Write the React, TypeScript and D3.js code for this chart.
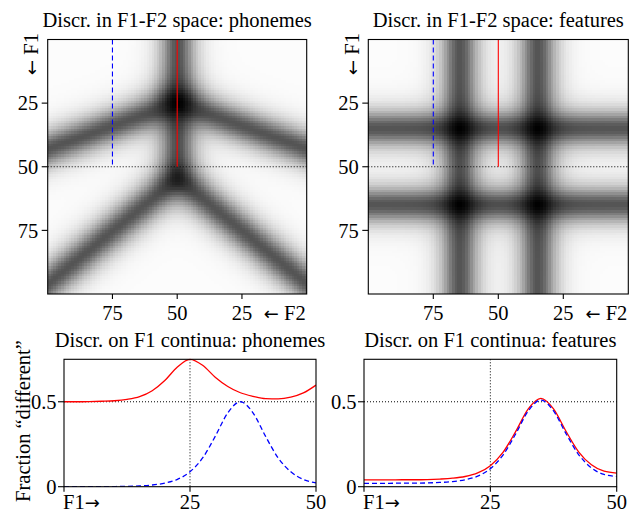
import React, { useMemo } from "react";
import * as d3 from "d3";

// ---------- data ----------
// F1 continua (x values of the lower panels)
const continuumF1 = [0, 2.5, 5, 7.5, 10, 12.5, 15, 17.5, 20, 22.5, 25, 27.5, 30, 32.5, 35, 37.5, 40, 42.5, 45, 47.5, 50];
// Fraction "different" along F1 at F2 = 50 (red) and F2 = 75 (blue), phoneme-based
const phonemesAtF2_50 = [0.5, 0.5, 0.501, 0.503, 0.506, 0.514, 0.53, 0.565, 0.625, 0.705, 0.75, 0.715, 0.645, 0.59, 0.553, 0.532, 0.518, 0.517, 0.527, 0.552, 0.598];
const phonemesAtF2_75 = [0, 0, 0, 0.001, 0.001, 0.002, 0.005, 0.01, 0.021, 0.043, 0.088, 0.169, 0.296, 0.435, 0.5, 0.435, 0.296, 0.169, 0.088, 0.043, 0.022];
// feature-based
const featuresAtF2_50 = [0.04, 0.04, 0.04, 0.041, 0.041, 0.042, 0.045, 0.05, 0.06, 0.081, 0.124, 0.202, 0.324, 0.458, 0.52, 0.458, 0.325, 0.204, 0.129, 0.091, 0.08];
const featuresAtF2_75 = [0.02, 0.02, 0.02, 0.021, 0.021, 0.022, 0.025, 0.03, 0.041, 0.062, 0.106, 0.186, 0.31, 0.446, 0.51, 0.446, 0.311, 0.188, 0.111, 0.072, 0.061];

// axis ticks
const f2Ticks = [75, 50, 25];
const f1Ticks = [25, 50, 75];
const continuumTicks = [0, 25, 50];
const continuumTickLabels = ["F1", "25", "50"];
const fractionTicks = [0, 0.5];
const fractionTickLabels = ["0", "0.5"];

// phoneme category boundaries in F1-F2 space
const boundaryF2 = 50;                 // vertical boundary
const junctionF1 = [25, 54.5];         // upper (4-way) and lower (3-way) junctions on F2 = 50
const boundaryEdgeF1 = [43, 96];       // F1 where upper / lower boundaries reach F2 = 0 and F2 = 100
const phonemeBlur = 3.1;               // perceptual blur (F1/F2 units)
// feature boundaries (top-right map)
const featureBoundariesF1 = [35, 65];
const featureBoundariesF2 = [35, 65];
const featureBlur = 3.25;

// continua markers
const continuumF2 = [50, 75];
const continuumTopF1 = 50;

// ---------- model helpers ----------
type Pt = [number, number];

function distToPolygon(px: number, py: number, poly: Pt[]) {
  let area = 0;
  for (let i = 0; i < poly.length; i++) {
    const a = poly[i], b = poly[(i + 1) % poly.length];
    area += a[0] * b[1] - b[0] * a[1];
  }
  const sgn = Math.sign(area);
  let inside = true;
  let minD = Infinity;
  for (let i = 0; i < poly.length; i++) {
    const a = poly[i], b = poly[(i + 1) % poly.length];
    const ex = b[0] - a[0], ey = b[1] - a[1];
    const cross = ex * (py - a[1]) - ey * (px - a[0]);
    if (cross * sgn < 0) inside = false;
    const len2 = ex * ex + ey * ey;
    let t = ((px - a[0]) * ex + (py - a[1]) * ey) / len2;
    t = Math.max(0, Math.min(1, t));
    const dx = px - (a[0] + t * ex), dy = py - (a[1] + t * ey);
    minD = Math.min(minD, Math.hypot(dx, dy));
  }
  return inside ? 0 : minD;
}

function buildPhonemeRegions(): Pt[][] {
  const FAR = 400;
  const L = boundaryF2 + FAR, R = boundaryF2 - FAR;
  const [j1, j2] = junctionF1;
  const upper = (side: number) => j1 + ((boundaryEdgeF1[0] - j1) / 50) * side;
  const lower = (side: number) => j2 + ((boundaryEdgeF1[1] - j2) / 50) * side;
  const uL = upper(FAR), lL = lower(FAR);
  return [
    [[boundaryF2, -FAR], [L, -FAR], [L, uL], [boundaryF2, j1]],
    [[boundaryF2, j1], [L, uL], [L, lL], [boundaryF2, j2]],
    [[boundaryF2, -FAR], [boundaryF2, j1], [R, uL], [R, -FAR]],
    [[boundaryF2, j1], [boundaryF2, j2], [R, lL], [R, uL]],
    [[boundaryF2, j2], [L, lL], [L, 3 * FAR], [R, 3 * FAR], [R, lL]],
  ];
}

function sameProbability(ds: number[], blur: number) {
  const ws = ds.map((d) => Math.exp(-d / blur));
  const s = d3.sum(ws);
  return d3.sum(ws, (w) => (w / s) * (w / s));
}

function intervalDistances(x: number, bounds: number[]) {
  const edges = [-Infinity, ...bounds, Infinity];
  const out: number[] = [];
  for (let i = 0; i < edges.length - 1; i++) {
    const lo = edges[i], hi = edges[i + 1];
    out.push(x < lo ? lo - x : x > hi ? x - hi : 0);
  }
  return out;
}

// ---------- layout ----------
const W = 630, H = 513;
const topY: [number, number] = [39.5, 294];
const topX: [number, number][] = [[47.7, 306.7], [368.3, 628.3]];
const botY: [number, number] = [359.3, 486.7];
const botX: [number, number][] = [[64, 316], [364, 616.7]];
const FONT = "'Liberation Serif', 'Times New Roman', Times, serif";
const ARROW_FONT = "'DejaVu Sans', sans-serif";
const FS = 20.5;
const RED = "#ff0000";
const BLUE = "#0000ff";

const gray = d3.scaleLinear<string>().domain([0, 0.75]).range(["#fcfcfc", "#000000"]).clamp(true);

function HeatPanel({ xr, kind, title }: { xr: [number, number]; kind: "phonemes" | "features"; title: string }) {
  const x = d3.scaleLinear().domain([100, 0]).range(xr);
  const y = d3.scaleLinear().domain([0, 100]).range(topY);
  const cells = useMemo(() => {
    const regions = buildPhonemeRegions();
    const out: { i: number; j: number; v: number }[] = [];
    for (let i = 0; i < 100; i++) {
      for (let j = 0; j < 100; j++) {
        const f2 = i + 0.5, f1 = j + 0.5;
        let v: number;
        if (kind === "phonemes") {
          const ds = regions.map((p) => distToPolygon(f2, f1, p));
          v = 1 - sameProbability(ds, phonemeBlur);
        } else {
          const a = sameProbability(intervalDistances(f1, featureBoundariesF1), featureBlur);
          const b = sameProbability(intervalDistances(f2, featureBoundariesF2), featureBlur);
          v = 1 - a * b;
        }
        out.push({ i, j, v });
      }
    }
    return out;
  }, [kind]);
  const [x0, x1] = xr;
  const [y0, y1] = topY;
  return (
    <g>
      <text x={(x0 + x1) / 2} y={26.5} textAnchor="middle" fontSize={FS} fontFamily={FONT}>{title}</text>
      <g shapeRendering="crispEdges">
        {cells.map((c) => (
          <rect
            key={c.i * 100 + c.j}
            x={x(c.i + 1)}
            y={y(c.j)}
            width={x(c.i) - x(c.i + 1) + 0.4}
            height={y(c.j + 1) - y(c.j) + 0.4}
            fill={gray(c.v)}
          />
        ))}
      </g>
      <line x1={x0} x2={x1} y1={y(continuumTopF1)} y2={y(continuumTopF1)} stroke="#000" strokeWidth={1} strokeDasharray="1,2" />
      <line x1={x(continuumF2[1])} x2={x(continuumF2[1])} y1={y(0)} y2={y(continuumTopF1)} stroke={BLUE} strokeWidth={1.1} strokeDasharray="5,3" />
      <line x1={x(continuumF2[0])} x2={x(continuumF2[0])} y1={y(0)} y2={y(continuumTopF1)} stroke={RED} strokeWidth={1.1} />
      <rect x={x0} y={y0} width={x1 - x0} height={y1 - y0} fill="none" stroke="#000" strokeWidth={1.1} />
      {f1Ticks.map((t) => (
        <g key={"y" + t}>
          <line x1={x0 - 6} x2={x0} y1={y(t)} y2={y(t)} stroke="#000" strokeWidth={1.1} />
          <text x={x0 - 9.5} y={y(t)} dy="0.35em" textAnchor="end" fontSize={FS} fontFamily={FONT}>{t}</text>
        </g>
      ))}
      {f2Ticks.map((t) => (
        <g key={"x" + t}>
          <line x1={x(t)} x2={x(t)} y1={y1} y2={y1 + 5} stroke="#000" strokeWidth={1.1} />
          <text x={x(t)} y={y1 + 26} textAnchor="middle" fontSize={FS} fontFamily={FONT}>{t}</text>
        </g>
      ))}
      <text x={x1 - 1} y={y1 + 26} textAnchor="end" fontSize={FS} fontFamily={FONT}>
        <tspan fontFamily={ARROW_FONT} fontSize={18}>{"\u2190"}</tspan>
        <tspan>{" F2"}</tspan>
      </text>
      <text transform={`translate(${x0 - 9.5},33) rotate(-90)`} textAnchor="end" fontSize={FS} fontFamily={FONT}>
        <tspan fontFamily={ARROW_FONT} fontSize={18}>{"\u2190"}</tspan>
        <tspan>{" F1"}</tspan>
      </text>
    </g>
  );
}

function LinePanel({ xr, red, blue, title, ylabel, id }: { xr: [number, number]; red: number[]; blue: number[]; title: string; ylabel?: string; id: string }) {
  const x = d3.scaleLinear().domain([0, 50]).range(xr);
  const y = d3.scaleLinear().domain([0, 0.75]).range([botY[1], botY[0]]);
  const line = d3
    .line<number>()
    .x((_, i) => x(continuumF1[i]))
    .y((d) => y(d))
    .curve(d3.curveMonotoneX);
  const [x0, x1] = xr;
  const [y0, y1] = botY;
  return (
    <g>
      <defs>
        <clipPath id={id}>
          <rect x={x0} y={y0 - 1} width={x1 - x0} height={y1 - y0 + 1} />
        </clipPath>
      </defs>
      <text x={(x0 + x1) / 2} y={346.7} textAnchor="middle" fontSize={FS} fontFamily={FONT}>{title}</text>
      <line x1={x0} x2={x1} y1={y(0.5)} y2={y(0.5)} stroke="#000" strokeWidth={1} strokeDasharray="1,2" />
      <line x1={x(25)} x2={x(25)} y1={y0} y2={y1} stroke="#000" strokeWidth={1} strokeDasharray="1,2" />
      <g clipPath={`url(#${id})`}>
        <path d={line(red) || ""} fill="none" stroke={RED} strokeWidth={1.3} />
        <path d={line(blue) || ""} fill="none" stroke={BLUE} strokeWidth={1.3} strokeDasharray="5,3" />
      </g>
      <rect x={x0} y={y0} width={x1 - x0} height={y1 - y0} fill="none" stroke="#000" strokeWidth={1.1} />
      {fractionTicks.map((t, i) => (
        <g key={"y" + t}>
          <line x1={x0 - 6} x2={x0} y1={y(t)} y2={y(t)} stroke="#000" strokeWidth={1.1} />
          <text x={x0 - 7.5} y={y(t)} dy="0.35em" textAnchor="end" fontSize={FS} fontFamily={FONT}>{fractionTickLabels[i]}</text>
        </g>
      ))}
      {continuumTicks.map((t, i) => (
        <g key={"x" + t}>
          <line x1={x(t)} x2={x(t)} y1={y1} y2={y1 + 5} stroke="#000" strokeWidth={1.1} />
          {i === 0 ? (
            <text x={x(t) - 1} y={y1 + 21.8} textAnchor="start" fontSize={FS} fontFamily={FONT}>
              <tspan>{continuumTickLabels[i]}</tspan>
              <tspan fontFamily={ARROW_FONT} fontSize={18}>{"\u2192"}</tspan>
            </text>
          ) : (
            <text x={x(t)} y={y1 + 21.8} textAnchor="middle" fontSize={FS} fontFamily={FONT}>{continuumTickLabels[i]}</text>
          )}
        </g>
      ))}
      {ylabel && (
        <text transform={`translate(29.5,${(y0 + y1) / 2 - 2}) rotate(-90)`} textAnchor="middle" fontSize={FS} fontFamily={FONT}>{ylabel}</text>
      )}
    </g>
  );
}

export default function App() {
  return (
    <svg width={W} height={H} viewBox={`0 0 ${W} ${H}`} style={{ position: "absolute", left: 0, top: 0, display: "block", background: "#fff" }}>
      <rect x={0} y={0} width={W} height={H} fill="#fff" />
      <HeatPanel xr={topX[0]} kind="phonemes" title="Discr. in F1-F2 space: phonemes" />
      <HeatPanel xr={topX[1]} kind="features" title="Discr. in F1-F2 space: features" />
      <LinePanel id="clipA" xr={botX[0]} red={phonemesAtF2_50} blue={phonemesAtF2_75} title="Discr. on F1 continua: phonemes" ylabel={"Fraction \u201Cdifferent\u201D"} />
      <LinePanel id="clipB" xr={botX[1]} red={featuresAtF2_50} blue={featuresAtF2_75} title="Discr. on F1 continua: features" />
    </svg>
  );
}
